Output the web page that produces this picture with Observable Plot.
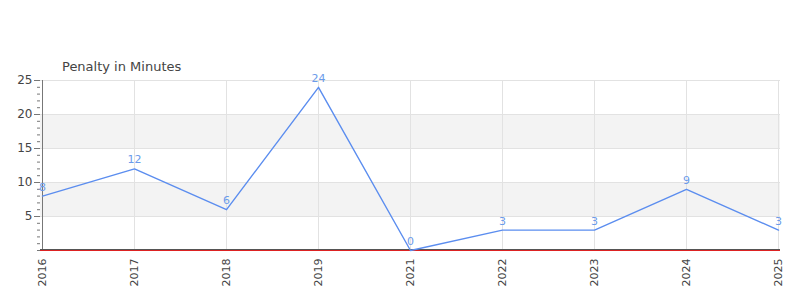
<!DOCTYPE html>
<html>
<head>
<meta charset="utf-8">
<script src="https://cdn.jsdelivr.net/npm/d3@7"></script>
<script src="https://cdn.jsdelivr.net/npm/@observablehq/plot@0.6"></script>
<style>
  body { margin: 0; background: #fff; font-family: "DejaVu Sans", sans-serif; }
  #wrap { position: relative; width: 800px; height: 300px; }
  #title { position: absolute; left: 62px; top: 59px; font-size: 13px; color: #444; }
</style>
</head>
<body>
<div id="wrap"><div id="title">Penalty in Minutes</div></div>
<script>
const years = ["2016", "2017", "2018", "2019", "2021", "2022", "2023", "2024", "2025"];
const penalties = [8, 12, 6, 24, 0, 3, 3, 9, 3];
const yTicks = [5, 10, 15, 20, 25];
const bands = [[5, 10], [15, 20]];

const data = years.map((y, i) => ({ year: y, value: penalties[i] }));
const bandData = bands.map(([a, b]) => ({ y1: a, y2: b }));

const chart = Plot.plot({
  width: 800,
  height: 300,
  marginLeft: 40,
  marginRight: 20,
  marginTop: 80,
  marginBottom: 50,
  style: { fontFamily: "DejaVu Sans, sans-serif", background: "transparent" },
  x: { type: "point", domain: years, padding: 0 },
  y: { domain: [0, 25] },
  marks: [
    Plot.rect(bandData, { y1: "y1", y2: "y2", fill: "#f3f3f3" }),
    Plot.gridY(yTicks, { stroke: "#e2e2e2", strokeOpacity: 1 }),
    Plot.gridX(years, { stroke: "#e2e2e2", strokeOpacity: 1 }),
    Plot.axisY(d3.range(0, 26), { tickSize: 3, text: null, stroke: "#777", tickPadding: 0 }),
    Plot.axisY(yTicks, { tickSize: 6, stroke: "#777", fill: "#444", fontSize: 12, tickPadding: 2, label: null }),
    Plot.ruleX([years[0]], { stroke: "#777" }),
    Plot.axisX(years, { tickRotate: -90, tickSize: 0, tickPadding: 8, fill: "#444", fontSize: 11, label: null }),
    Plot.ruleY([0], { stroke: "#dd2222", dy: 0 }),
    Plot.ruleY([0], { stroke: "#555", dy: -1 }),
    Plot.line(data, { x: "year", y: "value", stroke: "#5b8def", strokeWidth: 1.4 }),
    Plot.text(data, { x: "year", y: "value", text: d => String(d.value), dy: -9, fill: "#6b9bea", fontSize: 11 })
  ]
});
chart.style.position = "absolute";
chart.style.left = "0";
chart.style.top = "0";
document.getElementById("wrap").appendChild(chart);
</script>
</body>
</html>
